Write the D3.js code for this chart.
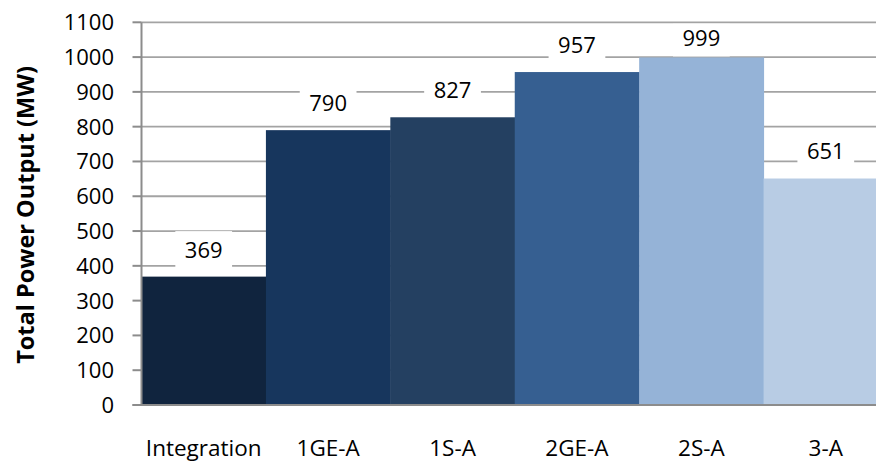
<!DOCTYPE html>
<html><head><meta charset="utf-8">
<script src="https://cdn.jsdelivr.net/npm/d3@7"></script>
<style>html,body{margin:0;padding:0;background:#fff;overflow:hidden}</style>
</head><body>
<svg id="chart" width="876" height="461"></svg>
<script>
const categories = ["Integration", "1GE-A", "1S-A", "2GE-A", "2S-A", "3-A"];
const values = [369, 790, 827, 957, 999, 651];
const barColors = ["#10243E", "#17365D", "#244061", "#365F91", "#95B3D7", "#B8CCE4"];
const yTicks = [0, 100, 200, 300, 400, 500, 600, 700, 800, 900, 1000, 1100];
const yTitle = "Total Power Output (MW)";

const svg = d3.select("#chart");
const W = 876, H = 461;
const margin = {left: 141.5, top: 22.3, bottom: 405};
const font = "'Open Sans', 'Liberation Sans', sans-serif";

const x = d3.scaleBand().domain(categories).range([margin.left, 888]).padding(0);
const y = d3.scaleLinear().domain([0, 1100]).range([margin.bottom, margin.top]);

// gridlines
svg.append("g").selectAll("line").data(yTicks.filter(d => d > 0)).join("line")
  .attr("x1", margin.left).attr("x2", W)
  .attr("y1", d => y(d)).attr("y2", d => y(d))
  .attr("stroke", "#a3a3a3").attr("stroke-width", 1.8);

// bars
svg.append("g").selectAll("rect").data(values).join("rect")
  .attr("x", (d, i) => x(categories[i]))
  .attr("width", x.bandwidth() + 0.5)
  .attr("y", d => y(d))
  .attr("height", d => y(0) - y(d))
  .attr("fill", (d, i) => barColors[i]);

// data labels
const lg = svg.append("g");
values.forEach((v, i) => {
  const cx = x(categories[i]) + x.bandwidth() / 2;
  let cy = y(v) - 27;
  cy = Math.max(cy, y(1100) + 16);
  const t = lg.append("text")
    .attr("x", cx).attr("y", cy).attr("dy", "0.36em")
    .attr("text-anchor", "middle")
    .attr("font-family", font).attr("font-size", 22).attr("fill", "#000")
    .text(v);
  const w = t.node().getComputedTextLength() + 19;
  const top = Math.max(cy - 18.5, y(1100) + 1.5);
  const bottom = Math.min(cy + 18.5, y(v) - 1);
  lg.insert("rect", "text")
    .attr("x", cx - w / 2).attr("width", w)
    .attr("y", top).attr("height", bottom - top)
    .attr("fill", "#fff");
});

// axes lines
svg.append("line").attr("x1", margin.left).attr("x2", margin.left)
  .attr("y1", y(1100)).attr("y2", y(0))
  .attr("stroke", "#8c8c8c").attr("stroke-width", 2);
svg.append("line").attr("x1", 132.5).attr("x2", W)
  .attr("y1", y(0)).attr("y2", y(0))
  .attr("stroke", "#8c8c8c").attr("stroke-width", 2);
svg.append("g").selectAll("line").data(yTicks).join("line")
  .attr("x1", 132.5).attr("x2", margin.left)
  .attr("y1", d => y(d)).attr("y2", d => y(d))
  .attr("stroke", "#8c8c8c").attr("stroke-width", 2);

// y tick labels
svg.append("g").selectAll("text").data(yTicks).join("text")
  .attr("x", 114).attr("y", d => y(d)).attr("dy", "0.36em")
  .attr("text-anchor", "end")
  .attr("font-family", font).attr("font-size", 22).attr("fill", "#000")
  .text(d => d);

// x labels
svg.append("g").selectAll("text").data(categories).join("text")
  .attr("x", d => x(d) + x.bandwidth() / 2).attr("y", 455.5)
  .attr("text-anchor", "middle")
  .attr("font-family", font).attr("font-size", 22.5).attr("fill", "#000")
  .text(d => d);

// y title
svg.append("text")
  .attr("transform", "translate(34,215) rotate(-90)")
  .attr("text-anchor", "middle")
  .attr("font-family", font).attr("font-size", 23.5).attr("font-weight", "bold").attr("fill", "#000")
  .text(yTitle);
</script>
</body></html>
